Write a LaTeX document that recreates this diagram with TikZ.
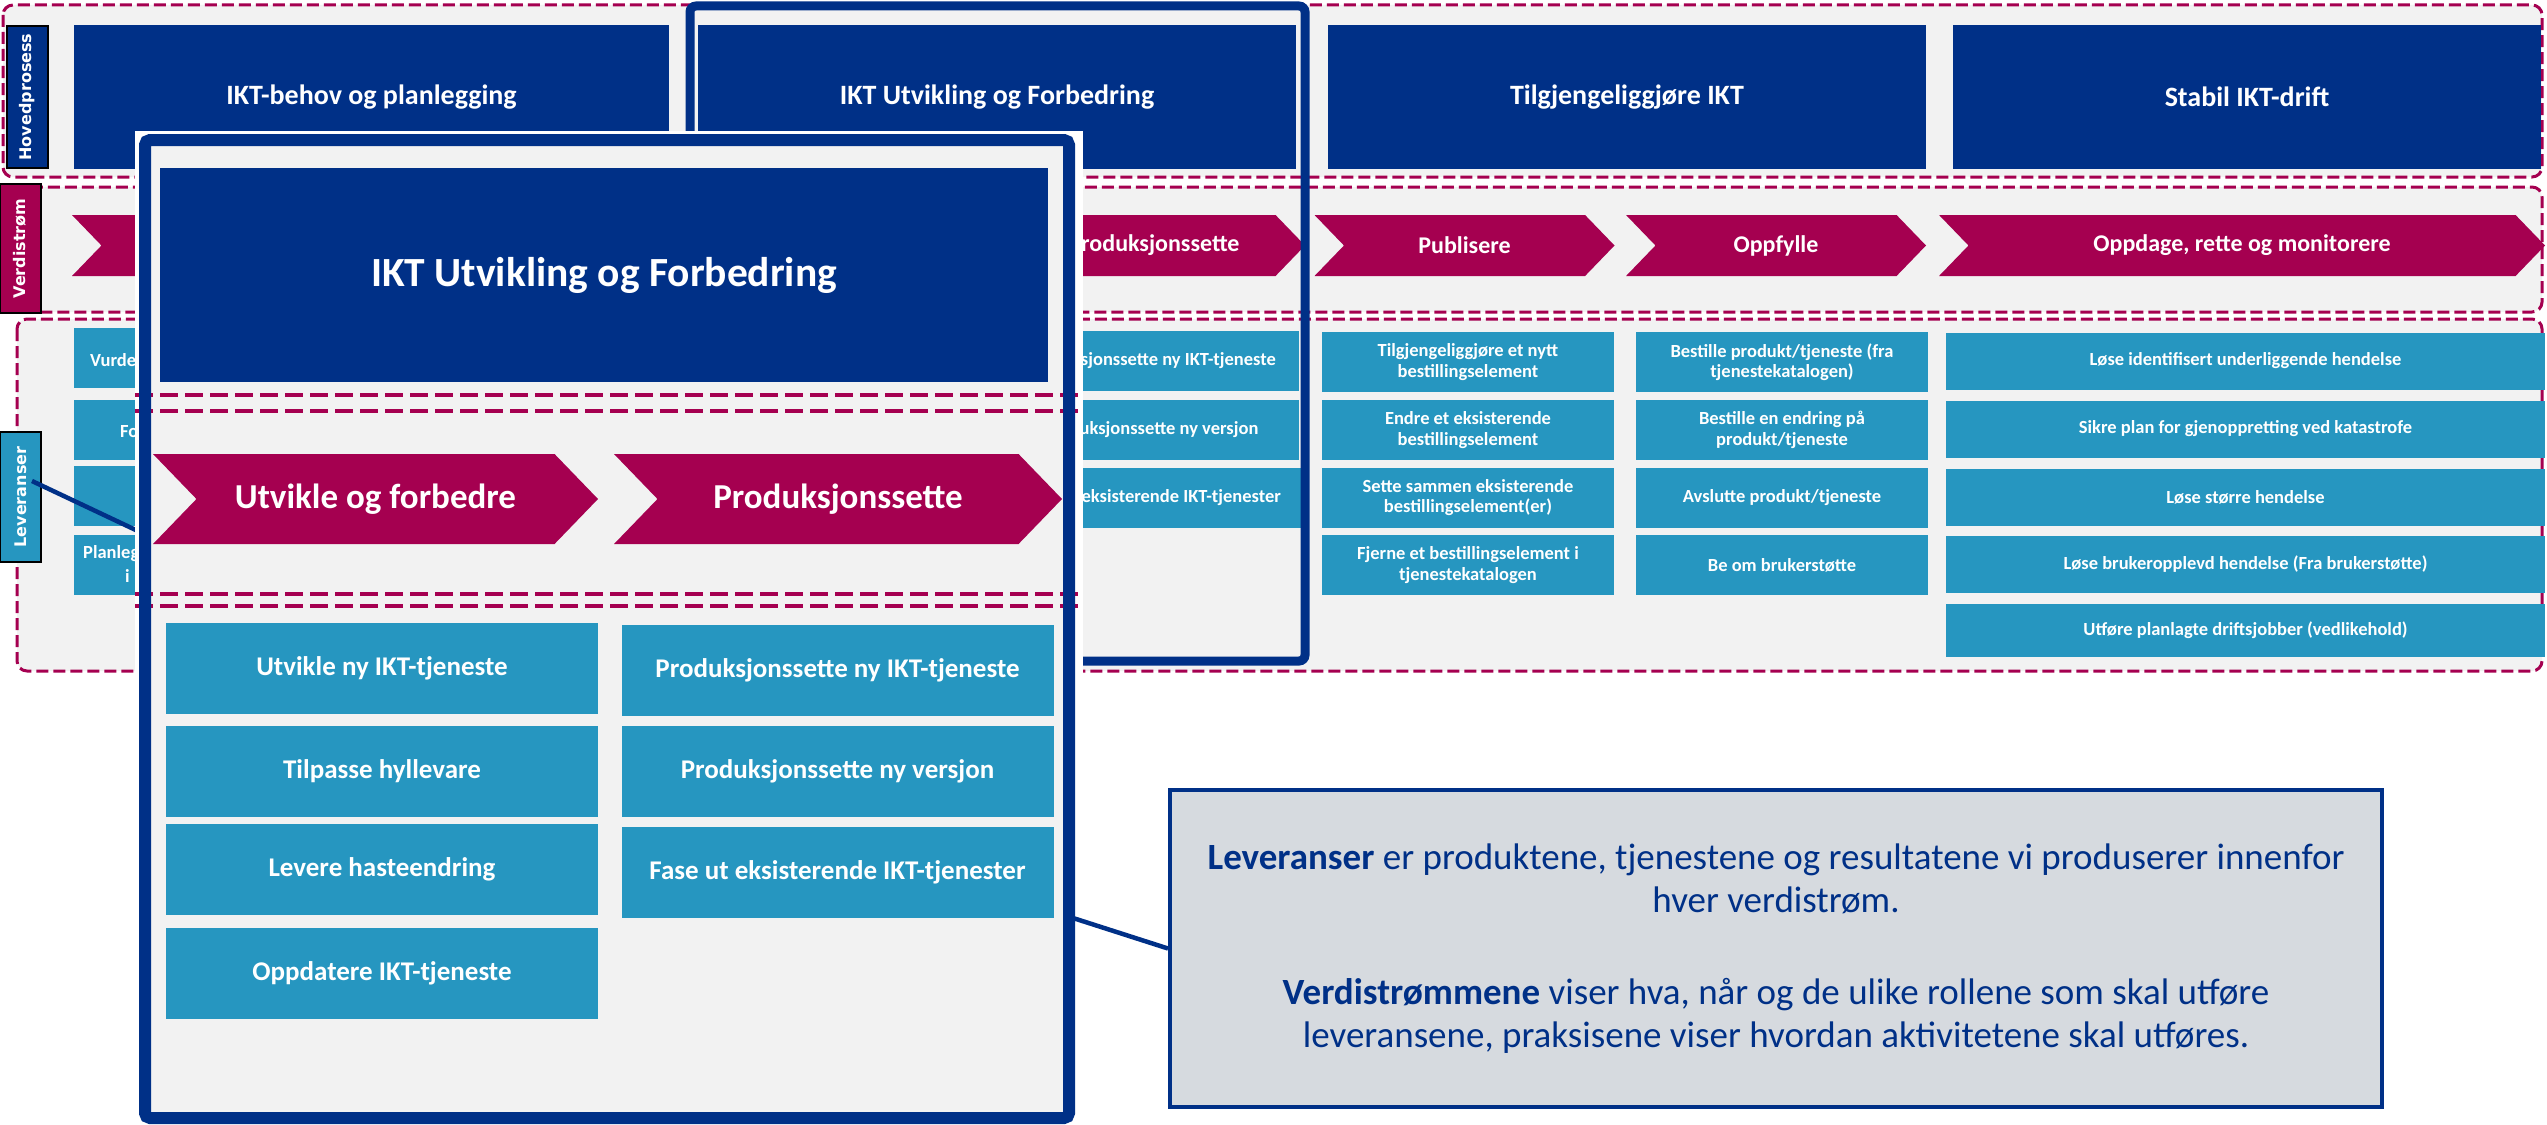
\documentclass[tikz,border=0pt]{standalone}
\usepackage{fontspec}
\setmainfont{Carlito}
\newfontfamily\lblfont{DejaVu Sans}
\usetikzlibrary{shapes.symbols,calc}
\definecolor{ikblue}{RGB}{0,48,135}
\definecolor{ikred}{RGB}{165,0,80}
\definecolor{ikteal}{RGB}{38,150,192}
\definecolor{ikgray}{RGB}{242,242,242}
\definecolor{ikcall}{RGB}{214,218,223}
\newcommand{\fsz}[2]{\fontsize{#1}{#2}\selectfont}

\begin{document}
\begin{tikzpicture}[x=1pt,y=-1pt,
  rowbox/.style={fill=ikgray,draw=ikred,line width=3pt,dash pattern=on 12pt off 5pt,rounded corners=10pt},
  rowlabel/.style={draw=black,line width=2pt,text=white,font=\lblfont\bfseries\fsz{16pt}{18pt},rotate=90,minimum height=41pt,inner sep=0pt},
  procbox/.style={fill=ikblue,text=white,font=\bfseries\fsz{28pt}{32pt},minimum height=144pt,inner sep=0pt},
  chev/.style={signal,signal from=west,signal to=east,signal pointer angle=92,fill=ikred,text=white,font=\bfseries\fsz{24pt}{28pt},minimum height=61pt,inner sep=0pt},
  levbox/.style={fill=ikteal,text=white,font=\bfseries\fsz{18.5pt}{20.5pt},align=center,minimum height=60pt,inner sep=0pt},
  levfrag/.style={text=white,font=\bfseries\fsz{18.5pt}{20.5pt},anchor=west,inner sep=0pt},
  zbox/.style={levbox,font=\bfseries\fsz{27pt}{30pt},minimum width=432pt,minimum height=91pt},
  zoomline/.style={draw=ikred,line width=4pt,dash pattern=on 18pt off 7pt},
  link/.style={draw=ikblue,line width=4.5pt}]
   \useasboundingbox (0,0) rectangle (2547,1124);
   % rader
   \draw[rowbox] (3,5) rectangle (2542,177);
   \draw[rowbox] (15,187) rectangle (2542,312);
   \draw[rowbox] (17,319) rectangle (2542,671);
   \node[rowlabel,fill=ikblue,minimum width=142pt] (hov) at (27.5,97) {Hovedprosess};
   \node[rowlabel,fill=ikred,minimum width=129pt] (verd) at (20,248.5) {Verdistrøm};
   \node[rowlabel,fill=ikteal,minimum width=130pt] (lev) at (20.5,497) {Leveranser};
   % hovedprosess
   \node[procbox,minimum width=595pt] (p1) at (371.5,97) {IKT-behov og planlegging};
   \node[procbox,minimum width=598pt] (p2) at (997,97) {IKT Utvikling og Forbedring};
   \node[procbox,minimum width=598pt] (p3) at (1627,97) {Tilgjengeliggjøre IKT};
   \node[procbox,minimum width=588pt] (p4) at (2247,97) {Stabil IKT-drift};
   % verdistrøm
   \node[chev,minimum width=588pt] (v1) at (366,245.5) {};
   \node[chev,minimum width=297pt] (v2) at (843.5,245.5) {};
   \node[chev,minimum width=302pt] (v3) at (1154,245.5) {Produksjonssette};
   \node[chev,minimum width=300pt] (v4) at (1464.5,245.5) {Publisere};
   \node[chev,minimum width=300pt] (v5) at (1776,245.5) {Oppfylle};
   \node[chev,minimum width=606pt] (v6) at (2242,245.5) {Oppdage, rette og monitorere};
   % leveranser
   \node[levbox,minimum width=296pt] (l11) at (222,358) {};
   \node[levbox,minimum width=296pt] (l12) at (222,430) {};
   \node[levbox,minimum width=296pt] (l13) at (222,495.5) {};
   \node[levbox,minimum width=296pt] (l14) at (222,564.5) {};
   \node[levfrag] (l11t) at (90,360) {Vurde};
   \node[levfrag] (l12t) at (120,432) {Fo};
   \node[levfrag] (l14t) at (83,554) {Planleg};
   \node[levfrag] (l14u) at (125,576) {i};
   \node[levbox,minimum width=296pt] (l21) at (1151,361) {Produksjonssette ny IKT-tjeneste};
   \node[levbox,minimum width=296pt] (l22) at (1151,429.5) {Produksjonssette ny versjon};
   \node[levbox,minimum width=298pt] (l23) at (1152,498) {Fase ut eksisterende IKT-tjenester};
   \node[levbox,minimum width=292pt] (l31) at (1468,362) {Tilgjengeliggjøre et nytt\\bestillingselement};
   \node[levbox,minimum width=292pt] (l32) at (1468,430) {Endre et eksisterende\\bestillingselement};
   \node[levbox,minimum width=292pt] (l33) at (1468,497.5) {Sette sammen eksisterende\\bestillingselement(er)};
   \node[levbox,minimum width=292pt] (l34) at (1468,565) {Fjerne et bestillingselement i\\tjenestekatalogen};
   \node[levbox,minimum width=292pt] (l41) at (1782,362) {Bestille produkt/tjeneste (fra\\tjenestekatalogen)};
   \node[levbox,minimum width=292pt] (l42) at (1782,430) {Bestille en endring på\\produkt/tjeneste};
   \node[levbox,minimum width=292pt] (l43) at (1782,497.5) {Avslutte produkt/tjeneste};
   \node[levbox,minimum width=292pt] (l44) at (1782,565) {Be om brukerstøtte};
   \node[levbox,minimum width=599pt,minimum height=57pt] (l51) at (2245.5,361) {Løse identifisert underliggende hendelse};
   \node[levbox,minimum width=599pt,minimum height=57pt] (l52) at (2245.5,429) {Sikre plan for gjenoppretting ved katastrofe};
   \node[levbox,minimum width=599pt,minimum height=57pt] (l53) at (2245.5,497) {Løse større hendelse};
   \node[levbox,minimum width=599pt,minimum height=57pt] (l54) at (2245.5,564.5) {Løse brukeropplevd hendelse (Fra brukerstøtte)};
   \node[levbox,minimum width=599pt,minimum height=53pt] (l55) at (2245.5,630) {Utføre planlagte driftsjobber (vedlikehold)};
   % markering
   \draw[ikblue,line width=9pt,rounded corners=6pt] (690,6) rectangle (1305,661);
   \coordinate (pin) at (140,532);
   \coordinate (pout) at (1073,918);
   \draw[link] ($(lev.south)+(-10,-16)$) -- (pin);
   % forstørrelse
   \fill[white] (135,131) rectangle (1083,1124);
   \fill[ikgray] (145,140) rectangle (1069,1118);
   \node[procbox,minimum width=888pt,minimum height=214pt,font=\bfseries\fsz{41.5pt}{46pt}] (z0) at (604,275) {IKT Utvikling og Forbedring};
   \draw[zoomline] (135,395) -- (1083,395);
   \draw[zoomline] (135,411) -- (1083,411);
   \node[chev,minimum width=445pt,minimum height=90pt,font=\bfseries\fsz{35pt}{40pt}] (z1) at (375.5,499) {Utvikle og forbedre};
   \node[chev,minimum width=448pt,minimum height=90pt,font=\bfseries\fsz{35pt}{40pt}] (z2) at (838,499) {Produksjonssette};
   \draw[zoomline] (135,594) -- (1083,594);
   \draw[zoomline] (135,606) -- (1083,606);
   \node[zbox] (z11) at (382,668.5) {Utvikle ny IKT-tjeneste};
   \node[zbox] (z12) at (382,771) {Tilpasse hyllevare};
   \node[zbox] (z13) at (382,869.5) {Levere hasteendring};
   \node[zbox] (z14) at (382,973) {Oppdatere IKT-tjeneste};
   \node[zbox] (z21) at (837.5,670) {Produksjonssette ny IKT-tjeneste};
   \node[zbox] (z22) at (837.5,771) {Produksjonssette ny versjon};
   \node[zbox] (z23) at (837.5,872) {Fase ut eksisterende IKT-tjenester};
   \node[draw=ikblue,line width=12pt,rounded corners=5pt,minimum width=924pt,minimum height=978pt,outer sep=0pt] (panel) at (607,629) {};
   % forklaring
   \node[fill=ikcall,draw=ikblue,line width=4pt,minimum width=1212pt,minimum height=317pt,align=center,text=ikblue,font=\fsz{37pt}{43.5pt}] (call) at (1776,948.5)
     {\textbf{Leveranser} er produktene, tjenestene og resultatene vi produserer innenfor\\hver verdistrøm.\\[48pt]
      \textbf{Verdistrømmene} viser hva, når og de ulike rollene som skal utføre\\leveransene, praksisene viser hvordan aktivitetene skal utføres.};
   \draw[link] (pout) -- (call.west);
\end{tikzpicture}
\end{document}
